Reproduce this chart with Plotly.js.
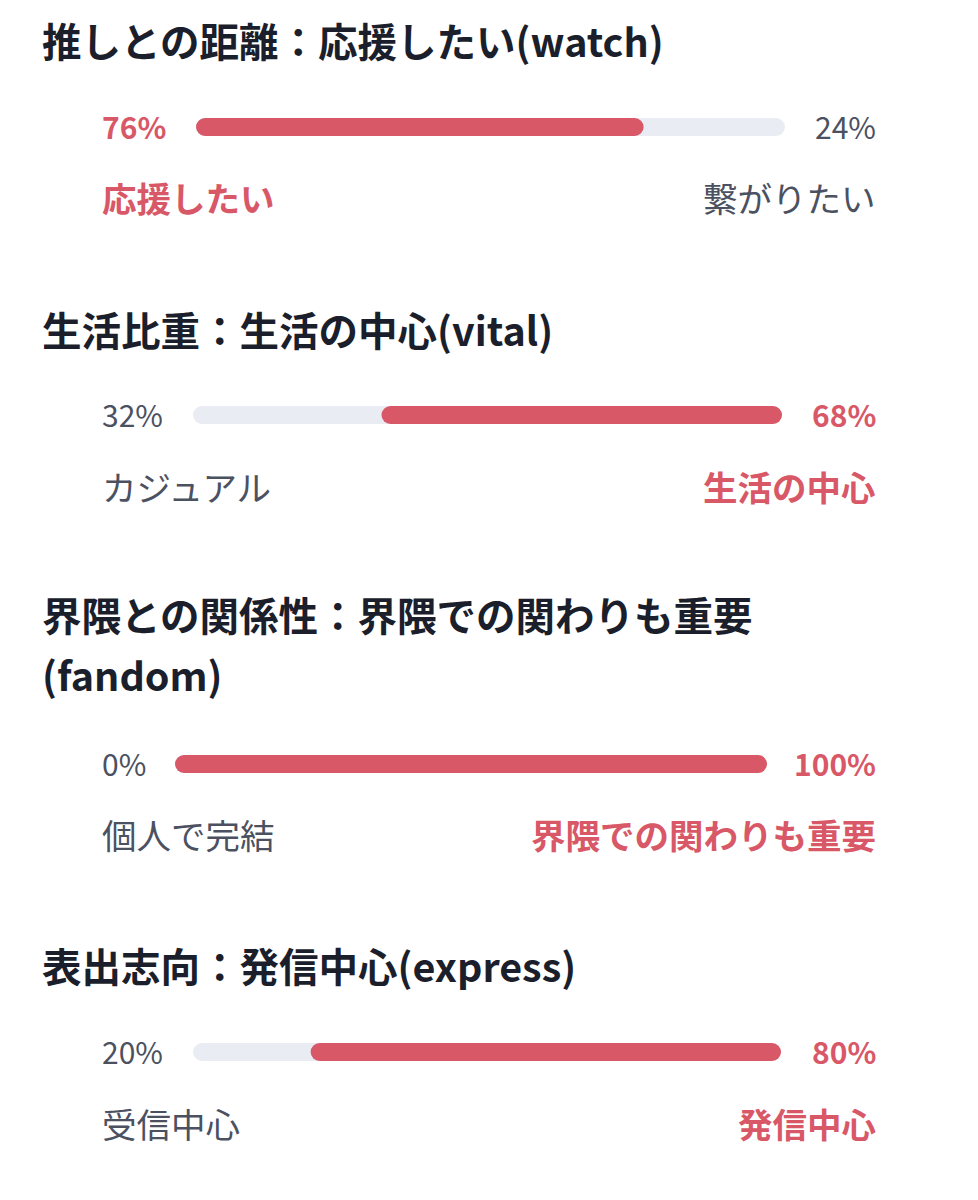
<!DOCTYPE html>
<html>
<head>
<meta charset="utf-8">
<script src="https://cdn.plot.ly/plotly-3.0.1.min.js"></script>
<style>
  html, body { margin: 0; padding: 0; background: #ffffff; }
  #chart { width: 978px; height: 1200px; }
</style>
</head>
<body>
<div id="chart"></div>
<script>
// ---- data ----
const titles = [
  "推しとの距離：応援したい(watch)",
  "生活比重：生活の中心(vital)",
  "界隈との関係性：界隈での関わりも重要\n(fandom)",
  "表出志向：発信中心(express)"
];
const leftLabels = ["応援したい", "カジュアル", "個人で完結", "受信中心"];
const rightLabels = ["繋がりたい", "生活の中心", "界隈での関わりも重要", "発信中心"];
const leftValues = [76, 32, 0, 20];
const rightValues = [24, 68, 100, 80];

// ---- style / layout ----
const W = 978, H = 1200;
const RED = "#d85868";
const TRACK = "#e9ecf2";
const GRAY_TXT = "#4b5161";
const DARK = "#1b1e2b";
const FONT = "Noto Sans CJK JP, Noto Sans, sans-serif";
const BAR_PX = 18;
const titleTop = [40, 328, 613, 964];
const barY = [127, 415, 764, 1052];
const pctY = [126, 414, 763, 1051];
const labelY = [197, 486, 834, 1123];
const trackPx = [[196, 785], [193, 782], [175, 767], [193, 781]];
const textLeft = 100, textRight = 878, titleLeft = 40;

const fx = px => px / W;
const fy = py => 1 - py / H;

const traces = [];
const layout = {
  width: W, height: H,
  margin: {l: 0, r: 0, t: 0, b: 0},
  paper_bgcolor: "#ffffff",
  plot_bgcolor: "rgba(0,0,0,0)",
  showlegend: false,
  barmode: "overlay",
  annotations: [],
  font: {family: FONT}
};

// a rounded segment from a to b
function segment(a, b, color, n) {
  traces.push({
    type: "bar", orientation: "h",
    y: [0], x: [b - a], base: [a], width: [BAR_PX / 20],
    xaxis: "x" + n, yaxis: "y" + n,
    marker: {color: color, cornerradius: BAR_PX / 2, line: {width: 0}},
    hoverinfo: "skip", opacity: 1
  });
}

for (let i = 0; i < titles.length; i++) {
  const n = i === 0 ? "" : String(i + 1);
  layout["xaxis" + n] = {
    domain: [fx(trackPx[i][0]), fx(trackPx[i][1])],
    range: [0, 100], visible: false, fixedrange: true,
    anchor: "y" + n
  };
  layout["yaxis" + n] = {
    domain: [fy(barY[i] + 20), fy(barY[i] - 20)],
    range: [-1, 1], visible: false, fixedrange: true,
    anchor: "x" + n
  };
  const leftDom = leftValues[i] > rightValues[i];
  // track
  segment(0, 100, TRACK, n);
  // filled part
  if (leftDom) segment(0, leftValues[i], RED, n);
  else segment(leftValues[i], 100, RED, n);

  // title (possibly multiple lines)
  const lines = titles[i].split("\n");
  lines.forEach((t, k) => {
    layout.annotations.push({
      xref: "paper", yref: "paper",
      x: fx(titleLeft), y: fy(titleTop[i] + k * 60),
      xanchor: "left", yanchor: "middle",
      text: t, showarrow: false,
      font: {family: FONT, size: 39.5, color: DARK, weight: 700}
    });
  });

  // percentages
  layout.annotations.push({
    xref: "paper", yref: "paper",
    x: fx(textLeft), y: fy(pctY[i]),
    xanchor: "left", yanchor: "middle",
    text: leftValues[i] + "%", showarrow: false,
    font: {family: FONT, size: 30, color: leftDom ? RED : GRAY_TXT, weight: leftDom ? 700 : 400}
  });
  layout.annotations.push({
    xref: "paper", yref: "paper",
    x: fx(textRight), y: fy(pctY[i]),
    xanchor: "right", yanchor: "middle",
    text: rightValues[i] + "%", showarrow: false,
    font: {family: FONT, size: 30, color: leftDom ? GRAY_TXT : RED, weight: leftDom ? 400 : 700}
  });
  // side labels
  layout.annotations.push({
    xref: "paper", yref: "paper",
    x: fx(textLeft), y: fy(labelY[i]),
    xanchor: "left", yanchor: "middle",
    text: leftLabels[i], showarrow: false,
    font: {family: FONT, size: 34.5, color: leftDom ? RED : GRAY_TXT, weight: leftDom ? 700 : 400}
  });
  layout.annotations.push({
    xref: "paper", yref: "paper",
    x: fx(textRight), y: fy(labelY[i]),
    xanchor: "right", yanchor: "middle",
    text: rightLabels[i], showarrow: false,
    font: {family: FONT, size: 34.5, color: leftDom ? GRAY_TXT : RED, weight: leftDom ? 400 : 700}
  });
}

Plotly.newPlot("chart", traces, layout, {displayModeBar: false, staticPlot: true});
</script>
</body>
</html>
